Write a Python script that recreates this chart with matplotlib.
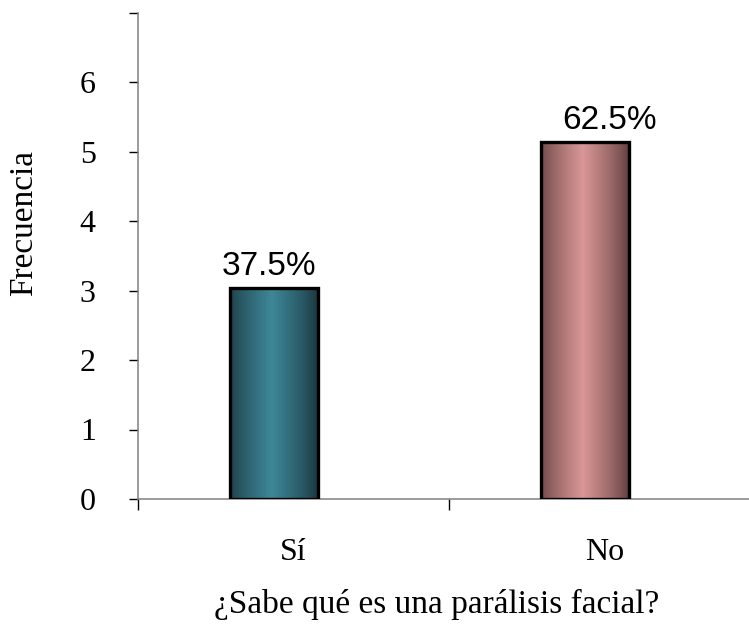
import numpy as np
import matplotlib
matplotlib.use("Agg")
import matplotlib.pyplot as plt
from matplotlib.colors import LinearSegmentedColormap

categories = ["Sí", "No"]
frequencies = [3.03, 5.13]
percent_labels = ["37.5%", "62.5%"]
y_ticks = [0, 1, 2, 3, 4, 5, 6, 7]
y_tick_labels = ["0", "1", "2", "3", "4", "5", "6", ""]

serif = ["Liberation Serif", "DejaVu Serif"]
sans = ["Liberation Sans", "DejaVu Sans"]

W, H = 749, 631
fig = plt.figure(figsize=(W / 100, H / 100), dpi=100)
ax = fig.add_axes([138 / W, (H - 499) / H, 1 - 138 / W, (499 - 12.5) / H])

ax.set_xlim(-0.5, 1.4646)
ax.set_ylim(0, 7)

bar_x = [-0.0627, 0.937]
bar_w = 0.283
shades = [
    ("#1c3a42", "#3d8798"),
    ("#664242", "#d99696"),
]

t = np.linspace(0, 1, 256)
profile = np.clip(1 - np.abs(t - 0.47) / 0.5, 0, 1) ** 0.8

for x, h, (dark, light), lab, dx in zip(bar_x, frequencies, shades, percent_labels, [-5, 25]):
    cmap = LinearSegmentedColormap.from_list("g", [dark, light])
    img = ax.imshow(profile[np.newaxis, :], cmap=cmap, aspect="auto",
                    extent=(x - bar_w / 2, x + bar_w / 2, 0, h),
                    interpolation="bilinear", zorder=2)
    bar = ax.bar(x, h, bar_w, fill=False, edgecolor="black",
                 linewidth=2.4, zorder=3)[0]
    img.set_clip_path(bar)
    ax.annotate(lab, (x, h), xytext=(dx * 0.72, 4.5), textcoords="offset points",
                ha="center", va="bottom", fontsize=24, family=sans)

for side in ["top", "right"]:
    ax.spines[side].set_visible(False)
for side in ["left", "bottom"]:
    ax.spines[side].set_color("#808080")
    ax.spines[side].set_linewidth(1.1)

ax.set_yticks(y_ticks)
ax.set_yticklabels(y_tick_labels, fontsize=23, family=serif)
ax.tick_params(axis="y", length=6.5, width=1.0, color="black", pad=24)

ax.set_xticks([0, 1])
ax.set_xticklabels(categories, fontsize=23, family=serif)
ax.tick_params(axis="x", which="major", length=0, pad=28)
ax.set_xticks([-0.5, 0.5], minor=True)
ax.tick_params(axis="x", which="minor", length=8, width=1.0, color="black")

ax.set_xlabel("¿Sabe qué es una parálisis facial?", fontsize=24, family=serif,
              va="center")
ax.xaxis.set_label_coords(0.488, -0.216)
ax.set_ylabel("Frecuencia", fontsize=24, family=serif, va="center")
ax.yaxis.set_label_coords(-0.1866, 0.567)

fig.savefig("out.png", dpi=100)
